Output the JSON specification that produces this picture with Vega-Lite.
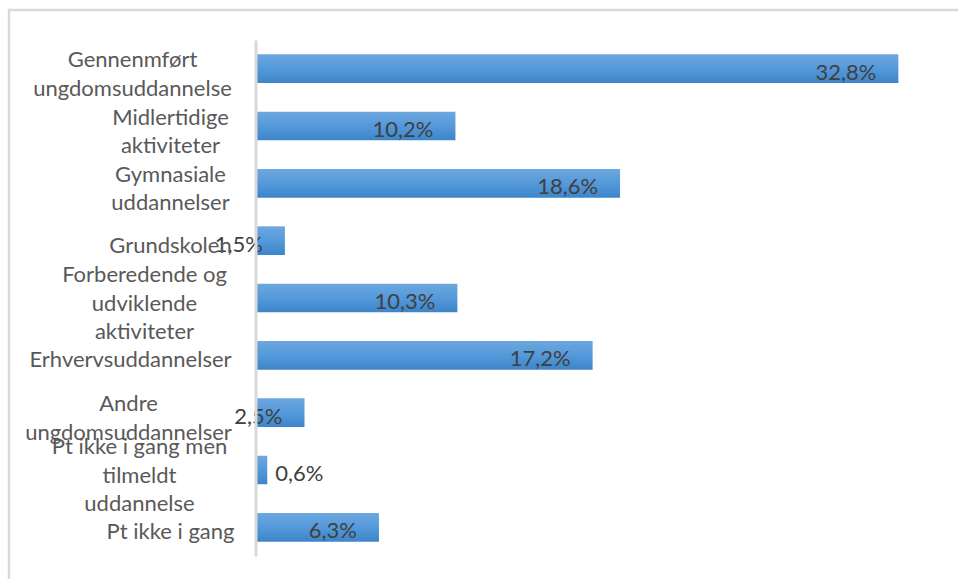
{
  "$schema": "https://vega.github.io/schema/vega-lite/v6.json",
  "width": 951,
  "height": 571,
  "autosize": "none",
  "padding": {"left": 9, "top": 10, "right": -2, "bottom": -2},
  "background": "white",
  "title": {"text": "g", "anchor": "start", "frame": "group", "dx": 48, "offset": 11, "baseline": "alphabetic", "font": "Lato", "fontSize": 26, "fontWeight": "normal", "color": "#C8601E"},
  "config": {"view": {"stroke": "#D9D9D9", "strokeWidth": 2.5}},
  "data": {"values": [
    {"cat": "Gennenmført|ungdomsuddannelse", "v": 32.8},
    {"cat": "Midlertidige|aktiviteter", "v": 10.2},
    {"cat": "Gymnasiale|uddannelser", "v": 18.6},
    {"cat": "Grundskolen", "v": 1.5},
    {"cat": "Forberedende og|udviklende|aktiviteter", "v": 10.3},
    {"cat": "Erhvervsuddannelser", "v": 17.2},
    {"cat": "Andre|ungdomsuddannelser", "v": 2.5},
    {"cat": "Pt ikke i gang men|tilmeldt|uddannelse", "v": 0.6},
    {"cat": "Pt ikke i gang", "v": 6.3}
  ]},
  "transform": [{"calculate": "replace(format(datum.v, '.1f'), '.', ',') + '%'", "as": "lbl"}],
  "encoding": {
    "y": {
      "field": "cat", "type": "nominal", "sort": null,
      "scale": {"range": [30, 546], "paddingInner": 0.5, "paddingOuter": 0.25},
      "axis": {
        "title": null, "ticks": false, "domain": true, "domainColor": "#D9D9D9", "domainWidth": 3,
        "offset": -246.5, "zindex": 1,
        "labelFont": "Lato", "labelFontSize": 22, "labelColor": "#595959", "labelLineHeight": 28.5,
        "labelExpr": "split(datum.label, '|')", "labelAlign": "center", "labelBaseline": "middle",
        "labelLimit": 0, "labelOverlap": false,
        "labelOffset": {"condition": [
          {"test": "datum.value === 'Forberedende og|udviklende|aktiviteter'", "value": -23},
          {"test": "datum.value === 'Pt ikke i gang men|tilmeldt|uddannelse'", "value": -23},
          {"test": "indexof(datum.value, '|') >= 0", "value": -8.5}
        ], "value": 5},
        "labelPadding": {"condition": [
          {"test": "datum.value === 'Gennenmført|ungdomsuddannelse'", "value": 123.5},
          {"test": "datum.value === 'Forberedende og|udviklende|aktiviteter'", "value": 111.5},
          {"test": "datum.value === 'Erhvervsuddannelser'", "value": 125.5},
          {"test": "datum.value === 'Andre|ungdomsuddannelser'", "value": 127.5},
          {"test": "datum.value === 'Pt ikke i gang men|tilmeldt|uddannelse'", "value": 116.5}
        ], "value": 85.5}
      }
    },
    "x": {"field": "v", "type": "quantitative", "scale": {"domain": [0, 35], "range": [246.5, 932.5]}, "axis": null}
  },
  "layer": [
    {"mark": {"type": "bar", "color": {"gradient": "linear", "x1": 0, "y1": 0, "x2": 0, "y2": 1, "stops": [{"offset": 0, "color": "#6DA7DF"}, {"offset": 0.5, "color": "#5499DA"}, {"offset": 1, "color": "#3D85C9"}]}}},
    {"transform": [{"filter": "datum.v >= 1"}],
     "mark": {"type": "text", "align": "right", "baseline": "alphabetic", "dx": -22, "dy": 11, "font": "Lato", "fontSize": 22, "color": "#404040"},
     "encoding": {"text": {"field": "lbl"}}},
    {"transform": [{"filter": "datum.v < 1"}],
     "mark": {"type": "text", "align": "left", "baseline": "alphabetic", "dx": 8, "dy": 11, "font": "Lato", "fontSize": 22, "color": "#404040"},
     "encoding": {"text": {"field": "lbl"}}}
  ]
}
